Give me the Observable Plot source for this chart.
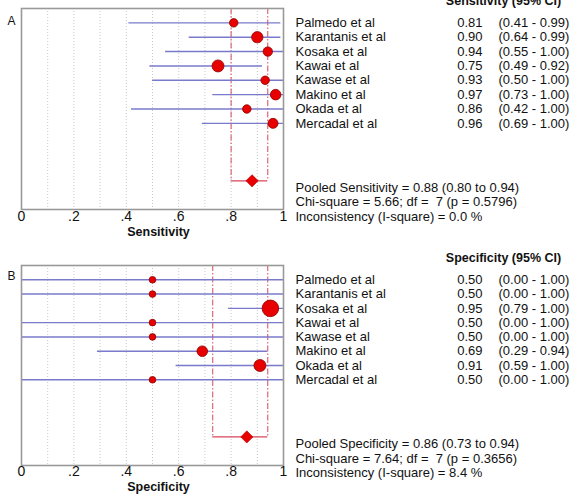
<!DOCTYPE html>
<html><head><meta charset="utf-8">
<script src="https://cdn.jsdelivr.net/npm/d3@7"></script>
<script src="https://cdn.jsdelivr.net/npm/@observablehq/plot@0.6"></script>
<style>
body{margin:0;background:#fff;}
#chart{width:583px;height:495px;overflow:hidden;}
#chart svg{display:block;font-family:"Liberation Sans",Arial,sans-serif;}
</style></head><body><div id="chart"></div>
<script>
// ---- data ----
const studies = ["Palmedo et al","Karantanis et al","Kosaka et al","Kawai et al","Kawase et al","Makino et al","Okada et al","Mercadal et al"];
const sensEst = [0.81,0.90,0.94,0.75,0.93,0.97,0.86,0.96];
const sensLo  = [0.41,0.64,0.55,0.49,0.50,0.73,0.42,0.69];
const sensHi  = [0.99,0.99,1.00,0.92,1.00,1.00,1.00,1.00];
const sensWeight = [18,32,22,36,18,28,18,25];
const specEst = [0.50,0.50,0.95,0.50,0.50,0.69,0.91,0.50];
const specLo  = [0.00,0.00,0.79,0.00,0.00,0.29,0.59,0.00];
const specHi  = [1.00,1.00,1.00,1.00,1.00,0.94,1.00,1.00];
const specWeight = [11,11,69,11,11,28,36,11];
const pooledName = ["Sensitivity","Specificity"];
const pooledEst = [0.88,0.86];
const pooledLo  = [0.80,0.73];
const pooledHi  = [0.94,0.94];
const chiSquare = ["5.66","7.64"];
const dfs = [7,7];
const pValues = ["0.5796","0.3656"];
const iSquare = ["0.0","8.4"];
const xTicks = [0,0.2,0.4,0.6,0.8,1];
const gridTicks = [0.1,0.2,0.3,0.4,0.5,0.6,0.7,0.8,0.9];
const panelLetters = ["A","B"];

function panel(k, est, lo, hi, w, layout) {
  const rows = studies.map((s,i)=>({study:s,row:i+1,est:est[i],lo:lo[i],hi:hi[i],w:w[i]}));
  const pooled = [{est:pooledEst[k],lo:pooledLo[k],hi:pooledHi[k],row:12}];
  const name = pooledName[k];
  const stats = [
    {row:12.5,text:`Pooled ${name} = ${pooledEst[k].toFixed(2)} (${pooledLo[k].toFixed(2)} to ${pooledHi[k].toFixed(2)})`},
    {row:13.5,text:`Chi-square = ${chiSquare[k]}; df =  ${dfs[k]} (p = ${pValues[k]})`},
    {row:14.5,text:`Inconsistency (I-square) = ${iSquare[k]} %`}
  ];
  const txt = "#111";
  const red = "#d9475c";
  return Plot.plot({
    width:583, height:layout.height,
    marginLeft:21, marginRight:300, marginTop:layout.top, marginBottom:layout.bottom,
    style:{fontFamily:"Liberation Sans, Arial, sans-serif", background:"#fff"},
    x:{domain:[0,1], axis:null},
    y:{domain:[0,14], reverse:true, axis:null},
    r:{type:"sqrt", domain:[0,100], range:[0,10]},
    marks:[
      Plot.ruleX(gridTicks,{stroke:"#c8c8c8", strokeDasharray:"1,2", strokeWidth:1}),
      Plot.ruleX(pooled,{x:"lo", y1:0, y2:"row", stroke:red, strokeWidth:1, strokeDasharray:"6,2,1.5,2"}),
      Plot.ruleX(pooled,{x:"hi", y1:0, y2:"row", stroke:red, strokeWidth:1, strokeDasharray:"6,2,1.5,2"}),
      Plot.ruleY(pooled,{y:"row", x1:"lo", x2:"hi", stroke:red, strokeWidth:1.2}),
      Plot.ruleY(rows,{y:"row", x1:"lo", x2:"hi", stroke:"#7a7acc", strokeWidth:1.4}),
      Plot.dot(rows,{x:"est", y:"row", r:"w", fill:"#e80000", stroke:"#8a0000", strokeWidth:0.8}),
      Plot.dot(pooled,{x:"est", y:"row", symbol:"diamond2", r:5.5, fill:"#e80000", stroke:"#b00000", strokeWidth:0.6}),
      Plot.frame({stroke:"#999", strokeWidth:1.6}),
      Plot.axisX({ticks:xTicks, tickSize:0, tickPadding:layout.tickPad, fontSize:14, fill:txt,
        tickFormat:d=> (d===0||d===1) ? String(d) : String(d).slice(1), label:null}),
      Plot.text([name],{frameAnchor:"bottom", dx:6, dy:layout.labelDy, fontSize:12.5, fontWeight:"bold", fill:txt}),
      Plot.text([panelLetters[k]],{frameAnchor:"top-left", dx:-14, dy:layout.letterDy, fontSize:12, fill:txt}),
      Plot.text([`${name} (95% CI)`],{x:()=>1, y:()=>0, dx:220, dy:-8, fontSize:12.5, fontWeight:"bold", fill:txt}),
      Plot.text(rows,{x:()=>1, y:"row", text:"study", dx:12, textAnchor:"start", fontSize:13, fill:txt}),
      Plot.text(rows,{x:()=>1, y:"row", text:d=>d.est.toFixed(2), dx:199, textAnchor:"end", fontSize:13, fill:txt}),
      Plot.text(rows,{x:()=>1, y:"row", text:d=>`(${d.lo.toFixed(2)} - ${d.hi.toFixed(2)})`, dx:215, textAnchor:"start", fontSize:13, fill:txt}),
      Plot.text(stats,{x:()=>1, y:"row", text:"text", dx:12, textAnchor:"start", fontSize:13, fill:txt})
    ]
  });
}

const el = document.getElementById("chart");
el.append(panel(0, sensEst, sensLo, sensHi, sensWeight, {height:247, top:8, bottom:38, tickPad:2, labelDy:26, letterDy:8}));
el.append(panel(1, specEst, specLo, specHi, specWeight, {height:248, top:18, bottom:30, tickPad:1, labelDy:25, letterDy:6}));
</script></body></html>
